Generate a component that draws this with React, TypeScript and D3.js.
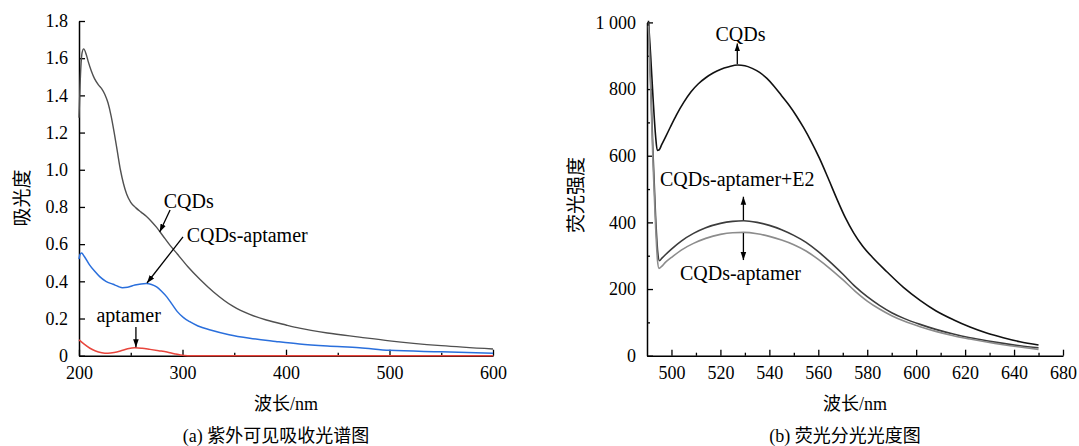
import React, { useEffect, useRef } from 'react';
import * as d3 from 'd3';

// (a) UV-vis absorption: [wavelength nm, absorbance]
const uvCQDs: [number, number][] = [
  [200, 1.28], [201, 1.45], [202, 1.57], [203, 1.63], [204.5, 1.65], [207, 1.62], [209, 1.58],
  [212, 1.53], [215, 1.49], [219, 1.455], [222, 1.435], [225, 1.405], [228, 1.36], [231, 1.29],
  [234, 1.2], [237, 1.1], [240, 1.0], [243, 0.925], [246, 0.87], [250, 0.825], [255, 0.795],
  [260, 0.772], [265, 0.75], [270, 0.722], [275, 0.69], [281, 0.645], [288, 0.593], [295, 0.547],
  [305, 0.48], [317, 0.41], [330, 0.343], [349, 0.265], [365, 0.222], [381, 0.192], [400, 0.165],
  [413, 0.148], [440, 0.122], [471, 0.1], [500, 0.08], [550, 0.054], [600, 0.036],
];
const uvCQDsAptamer: [number, number][] = [
  [200, 0.52], [201, 0.545], [202.5, 0.552], [205, 0.535], [210, 0.49], [215, 0.455], [220, 0.425],
  [226, 0.4], [233, 0.384], [238, 0.372], [242, 0.366], [247, 0.368], [254, 0.38], [260, 0.386],
  [265, 0.388], [270, 0.383], [275, 0.37], [280, 0.345], [285, 0.315], [290, 0.276], [295, 0.237],
  [301, 0.205], [307, 0.183], [315, 0.16], [327, 0.138], [345, 0.113], [365, 0.094], [390, 0.077],
  [413, 0.063], [440, 0.052], [471, 0.043], [500, 0.029], [550, 0.021], [600, 0.013],
];
const uvAptamer: [number, number][] = [
  [200, 0.085], [205, 0.062], [210.6, 0.04], [216, 0.025], [222, 0.016], [228, 0.013], [234, 0.017],
  [240, 0.025], [247, 0.037], [254, 0.043], [261, 0.04], [268.6, 0.034], [277, 0.027], [285, 0.02],
  [292, 0.011], [298, 0.004], [305, 0], [400, 0], [500, 0], [600, 0],
];
const uvXTicks = [200, 300, 400, 500, 600];
const uvXMinor = [250, 350, 450, 550];
const uvYTicks = [0, 0.2, 0.4, 0.6, 0.8, 1.0, 1.2, 1.4, 1.6, 1.8];
const uvYTickLabels = ['0', '0.2', '0.4', '0.6', '0.8', '1.0', '1.2', '1.4', '1.6', '1.8'];

// (b) fluorescence: [wavelength nm, intensity]
const flCQDs: [number, number][] = [
  [490.6, 1005], [491.5, 900], [492.5, 770], [493.5, 660], [494.2, 616], [495, 618], [496, 633],
  [497.5, 655], [499.6, 687], [502, 722], [505, 760], [508, 792], [511, 816], [514, 834], [517, 848],
  [520, 859], [523.5, 867], [527, 872], [530, 870], [533, 862], [536, 850], [539, 832], [542, 808],
  [545, 780], [548, 752], [551, 720], [554, 684], [557, 644], [560.5, 592], [564, 533], [567.5, 472],
  [571, 415], [574.5, 368], [578, 330], [582, 296], [588, 252], [594.8, 205], [601.6, 166],
  [608, 135], [615.2, 108], [622, 86], [628.8, 68], [635.6, 54], [642.4, 42], [650, 32],
];
const flCQDsAptamerE2: [number, number][] = [
  [490.6, 1000], [491.5, 820], [492.5, 600], [493.5, 420], [494.4, 310], [495.1, 285], [496, 292],
  [497.5, 303], [500, 320], [504, 344], [509, 367], [514, 384], [520, 397], [525, 403], [529.5, 405],
  [535, 400], [540, 391], [545, 378], [550, 361], [555, 340], [560, 312], [565, 280], [570, 245],
  [575, 208], [580, 177], [585, 151], [590, 129], [595, 112], [601.6, 94], [608, 79], [615.2, 65],
  [622, 54], [628.8, 45], [635.6, 37], [642.4, 30], [650, 24],
];
const flCQDsAptamer: [number, number][] = [
  [490.6, 990], [491.5, 800], [492.5, 570], [493.5, 390], [494.3, 285], [494.9, 262], [496, 268],
  [497.5, 280], [500, 295], [504, 317], [509, 337], [514, 352], [520, 364], [525, 369], [529.5, 370],
  [535, 366], [540, 358], [545, 347], [550, 333], [555, 314], [560, 289], [565, 260], [570, 228],
  [575, 194], [580, 164], [585, 140], [590, 120], [595, 104], [601.6, 87], [608, 73], [615.2, 60],
  [622, 50], [628.8, 41], [635.6, 33], [642.4, 26], [650, 19],
];
const flXTicks = [500, 520, 540, 560, 580, 600, 620, 640, 660];
const flXTickLabels = ['500', '520', '540', '560', '580', '600', '620', '640', '680'];
const flXMinor = [510, 530, 550, 570, 590, 610, 630, 650];
const flYTicks = [0, 200, 400, 600, 800, 1000];
const flYTickLabels = ['0', '200', '400', '600', '800', '1 000'];
const flYMinor = [100, 300, 500, 700, 900];

// annotations, in data units
const uvNotes = [
  { text: 'CQDs', x: 306, y: 0.794, anchor: 'middle' },
  { text: 'CQDs-aptamer', x: 304, y: 0.612, anchor: 'start' },
  { text: 'aptamer', x: 248, y: 0.181, anchor: 'middle' },
];
const uvArrows = [
  { x1: 288, y1: 0.784, x2: 278, y2: 0.665 },
  { x1: 300.5, y1: 0.639, x2: 265.7, y2: 0.391 },
  { x1: 255, y1: 0.154, x2: 255, y2: 0.045 },
];
const flNotes = [
  { text: 'CQDs', x: 528.2, y: 943, anchor: 'middle' },
  { text: 'CQDs-aptamer+E2', x: 526.9, y: 509, anchor: 'middle' },
  { text: 'CQDs-aptamer', x: 528.2, y: 227, anchor: 'middle' },
];
const flArrows = [
  { x1: 526.9, y1: 875, x2: 526.9, y2: 937 },
  { x1: 529.4, y1: 407, x2: 529.4, y2: 477 },
  { x1: 529.4, y1: 368, x2: 529.4, y2: 287 },
];

const serif = "'Liberation Serif', 'DejaVu Serif', serif";
const cjk = "'Liberation Serif', 'Noto Sans CJK SC', serif";

const App = () => {
  const svgRef = useRef<SVGSVGElement>(null);

  useEffect(() => {
    const svg = d3.select(svgRef.current);
    svg.selectAll('*').remove();

    svg.append('defs').append('marker')
      .attr('id', 'arr')
      .attr('viewBox', '0 0 10 10')
      .attr('refX', 10).attr('refY', 5)
      .attr('markerWidth', 8).attr('markerHeight', 8)
      .attr('markerUnits', 'userSpaceOnUse')
      .attr('orient', 'auto')
      .append('path').attr('d', 'M0,1.5L10,5L0,8.5z').attr('fill', '#000');

    const styleAxis = (g: any) => {
      g.attr('font-family', null).attr('font-size', null);
      g.select('.domain').attr('stroke', '#000').attr('stroke-width', 1.5);
      g.selectAll('.tick line').attr('stroke', '#000').attr('stroke-width', 1.3);
      g.selectAll('text').style('font-family', serif).style('font-size', '18px').attr('fill', '#000');
    };

    const panel = (opts: any) => {
      const { x, y, xTicks, xLabels, xMinor, yTicks, yLabels, yMinor, series, notes, arrows,
        xTitle, yTitle, yTitleX, yTitleY, caption } = opts;
      const g = svg.append('g');
      const y0 = y.range()[0];
      const x0 = x.range()[0];

      g.append('g').attr('transform', `translate(0,${y0})`)
        .call(d3.axisBottom(x).tickValues(xTicks).tickFormat((_d: any, i: number) => xLabels[i])
          .tickSizeInner(-6).tickSizeOuter(0).tickPadding(11))
        .call(styleAxis);
      g.append('g').attr('transform', `translate(0,${y0})`)
        .call(d3.axisBottom(x).tickValues(xMinor).tickFormat(() => '').tickSizeInner(-3).tickSizeOuter(0))
        .call((s: any) => s.select('.domain').remove())
        .call(styleAxis);

      g.append('g').attr('transform', `translate(${x0},0)`)
        .call(d3.axisLeft(y).tickValues(yTicks).tickFormat((_d: any, i: number) => yLabels[i])
          .tickSizeInner(-6).tickSizeOuter(0).tickPadding(11))
        .call(styleAxis);
      if (yMinor.length) {
        g.append('g').attr('transform', `translate(${x0},0)`)
          .call(d3.axisLeft(y).tickValues(yMinor).tickFormat(() => '').tickSizeInner(-3).tickSizeOuter(0))
          .call((s: any) => s.select('.domain').remove())
          .call(styleAxis);
      }

      const line = d3.line<[number, number]>()
        .x(d => x(d[0])).y(d => y(d[1]))
        .curve(d3.curveMonotoneX);
      series.forEach((s: any) => {
        g.append('path').datum(s.data)
          .attr('d', line)
          .attr('fill', 'none')
          .attr('stroke', s.color)
          .attr('stroke-width', s.width)
          .attr('stroke-linejoin', 'round');
      });

      arrows.forEach((a: any) => {
        g.append('line')
          .attr('x1', x(a.x1)).attr('y1', y(a.y1))
          .attr('x2', x(a.x2)).attr('y2', y(a.y2))
          .attr('stroke', '#000').attr('stroke-width', 1.3)
          .attr('marker-end', 'url(#arr)');
      });
      notes.forEach((n: any) => {
        g.append('text')
          .attr('x', x(n.x)).attr('y', y(n.y))
          .attr('text-anchor', n.anchor)
          .style('font-family', serif).style('font-size', '20px')
          .text(n.text);
      });

      const cx = (x.range()[0] + x.range()[1]) / 2;
      g.append('text')
        .attr('x', cx).attr('y', 410)
        .attr('text-anchor', 'middle')
        .style('font-family', cjk).style('font-size', '18px')
        .text(xTitle);
      g.append('text')
        .attr('transform', `translate(${yTitleX},${yTitleY}) rotate(-90)`)
        .attr('text-anchor', 'middle')
        .attr('dy', '0.35em')
        .style('font-family', cjk).style('font-size', '19px')
        .text(yTitle);
      g.append('text')
        .attr('x', cx - 10).attr('y', 442)
        .attr('text-anchor', 'middle')
        .style('font-family', cjk).style('font-size', '18px')
        .text(caption);
    };

    panel({
      x: d3.scaleLinear().domain([200, 600]).range([79, 493]),
      y: d3.scaleLinear().domain([0, 1.8]).range([355.7, 21]),
      xTicks: uvXTicks, xLabels: uvXTicks.map(String), xMinor: uvXMinor,
      yTicks: uvYTicks, yLabels: uvYTickLabels, yMinor: [],
      series: [
        { data: uvCQDs, color: '#505050', width: 1.4 },
        { data: uvCQDsAptamer, color: '#2a6fdc', width: 1.5 },
        { data: uvAptamer, color: '#e8453c', width: 1.5 },
      ],
      notes: uvNotes, arrows: uvArrows,
      xTitle: '波长/nm', yTitle: '吸光度', yTitleX: 22, yTitleY: 198,
      caption: '(a) 紫外可见吸收光谱图',
    });

    panel({
      x: d3.scaleLinear().domain([490, 660]).range([647, 1063]),
      y: d3.scaleLinear().domain([0, 1000]).range([355.7, 22.4]),
      xTicks: flXTicks, xLabels: flXTickLabels, xMinor: flXMinor,
      yTicks: flYTicks, yLabels: flYTickLabels, yMinor: flYMinor,
      series: [
        { data: flCQDs, color: '#111111', width: 1.6 },
        { data: flCQDsAptamerE2, color: '#3c3c3c', width: 1.6 },
        { data: flCQDsAptamer, color: '#8c8c8c', width: 1.6 },
      ],
      notes: flNotes, arrows: flArrows,
      xTitle: '波长/nm', yTitle: '荧光强度', yTitleX: 576, yTitleY: 195,
      caption: '(b) 荧光分光光度图',
    });
  }, []);

  return (
    <svg ref={svgRef} width={1079} height={446}
      style={{ position: 'absolute', left: 0, top: 0, background: '#fff' }} />
  );
};

export default App;
